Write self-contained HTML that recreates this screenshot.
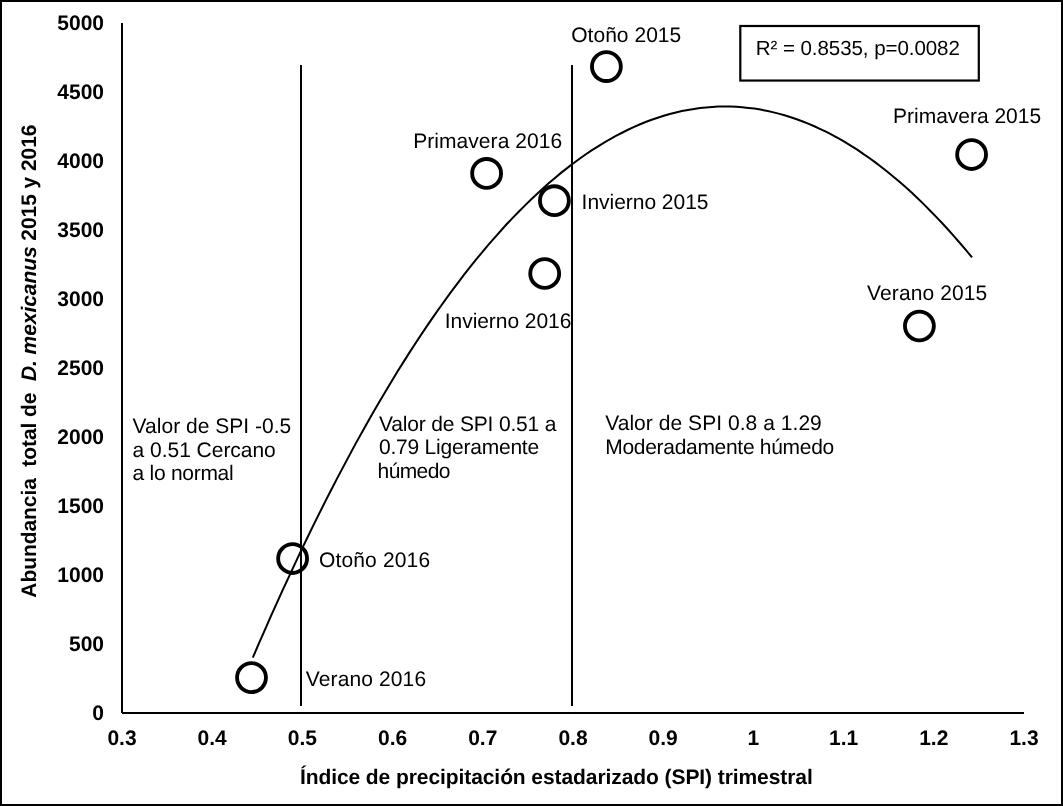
<!DOCTYPE html>
<html><head><meta charset="utf-8"><style>
html,body{margin:0;padding:0;background:#fff;}
svg{display:block;will-change:transform;}
text{font-family:"Liberation Sans",sans-serif;fill:#000;text-rendering:geometricPrecision;}
.b{font-weight:bold;font-size:21px;}
.r{font-size:21px;}
</style></head><body>
<svg width="1063" height="806" viewBox="0 0 1063 806">
<rect x="0" y="0" width="1063" height="806" fill="#fff"/>
<rect x="1" y="1" width="1061" height="804" fill="none" stroke="#000" stroke-width="2"/>
<rect x="121" y="23" width="2" height="690" fill="#000"/>
<rect x="122" y="712" width="902" height="2" fill="#000"/>
<rect x="300" y="65" width="2" height="641" fill="#000"/>
<rect x="571" y="65" width="2" height="641" fill="#000"/>
<path d="M252.8,657.7 L258.8,643.7 L264.9,629.9 L270.9,616.2 L277.0,602.7 L283.0,589.4 L289.1,576.3 L295.1,563.4 L301.1,550.6 L307.2,538.0 L313.2,525.6 L319.3,513.4 L325.3,501.4 L331.4,489.5 L337.4,477.9 L343.5,466.4 L349.5,455.1 L355.5,443.9 L361.6,433.0 L367.6,422.2 L373.7,411.6 L379.7,401.2 L385.8,391.0 L391.8,380.9 L397.8,371.1 L403.9,361.4 L409.9,351.9 L416.0,342.5 L422.0,333.4 L428.1,324.4 L434.1,315.6 L440.2,307.0 L446.2,298.6 L452.2,290.4 L458.3,282.3 L464.3,274.4 L470.4,266.7 L476.4,259.2 L482.5,251.9 L488.5,244.7 L494.5,237.8 L500.6,231.0 L506.6,224.3 L512.7,217.9 L518.7,211.7 L524.8,205.6 L530.8,199.7 L536.9,194.0 L542.9,188.4 L548.9,183.1 L555.0,177.9 L561.0,172.9 L567.1,168.1 L573.1,163.5 L579.2,159.0 L585.2,154.8 L591.2,150.7 L597.3,146.8 L603.3,143.1 L609.4,139.5 L615.4,136.2 L621.5,133.0 L627.5,130.0 L633.6,127.1 L639.6,124.5 L645.6,122.0 L651.7,119.8 L657.7,117.7 L663.8,115.7 L669.8,114.0 L675.9,112.5 L681.9,111.1 L687.9,109.9 L694.0,108.9 L700.0,108.0 L706.1,107.4 L712.1,106.9 L718.2,106.6 L724.2,106.5 L730.3,106.6 L736.3,106.8 L742.3,107.2 L748.4,107.9 L754.4,108.6 L760.5,109.6 L766.5,110.8 L772.6,112.1 L778.6,113.6 L784.6,115.3 L790.7,117.2 L796.7,119.2 L802.8,121.5 L808.8,123.9 L814.9,126.5 L820.9,129.3 L827.0,132.2 L833.0,135.4 L839.0,138.7 L845.1,142.2 L851.1,145.9 L857.2,149.7 L863.2,153.8 L869.3,158.0 L875.3,162.4 L881.3,167.0 L887.4,171.8 L893.4,176.7 L899.5,181.8 L905.5,187.1 L911.6,192.6 L917.6,198.3 L923.7,204.1 L929.7,210.2 L935.7,216.4 L941.8,222.8 L947.8,229.3 L953.9,236.1 L959.9,243.0 L966.0,250.1 L972.0,257.4" fill="none" stroke="#000" stroke-width="2"/>
<g fill="none" stroke="#000" stroke-width="3.85"><circle cx="251.5" cy="677.6" r="14.45"/><circle cx="292.6" cy="558.5" r="14.45"/><circle cx="486.6" cy="173.4" r="14.45"/><circle cx="544.7" cy="273.5" r="14.45"/><circle cx="554.4" cy="200.7" r="14.45"/><circle cx="606.4" cy="66.6" r="14.45"/><circle cx="919.4" cy="326" r="14.45"/><circle cx="971.6" cy="154.5" r="14.45"/></g>
<g class="b"><text x="104" y="720.0" text-anchor="end">0</text><text x="104" y="651.0" text-anchor="end">500</text><text x="104" y="582.0" text-anchor="end">1000</text><text x="104" y="513.0" text-anchor="end">1500</text><text x="104" y="444.0" text-anchor="end">2000</text><text x="104" y="375.0" text-anchor="end">2500</text><text x="104" y="306.0" text-anchor="end">3000</text><text x="104" y="237.0" text-anchor="end">3500</text><text x="104" y="168.0" text-anchor="end">4000</text><text x="104" y="99.0" text-anchor="end">4500</text><text x="104" y="30.0" text-anchor="end">5000</text><text x="122.0" y="745" text-anchor="middle">0.3</text><text x="212.2" y="745" text-anchor="middle">0.4</text><text x="302.4" y="745" text-anchor="middle">0.5</text><text x="392.6" y="745" text-anchor="middle">0.6</text><text x="482.8" y="745" text-anchor="middle">0.7</text><text x="573.0" y="745" text-anchor="middle">0.8</text><text x="663.2" y="745" text-anchor="middle">0.9</text><text x="753.4" y="745" text-anchor="middle">1</text><text x="843.6" y="745" text-anchor="middle">1.1</text><text x="933.8" y="745" text-anchor="middle">1.2</text><text x="1024.0" y="745" text-anchor="middle">1.3</text>
<text x="299.9" y="783.7" textLength="512.88" lengthAdjust="spacing">Índice de precipitación estadarizado (SPI) trimestral</text>
<text transform="translate(36.2,597.7) rotate(-90)" textLength="473.17" lengthAdjust="spacing">Abundancia&#160; total de&#160; <tspan font-style="italic">D. mexicanus</tspan> 2015 y 2016</text>
</g>
<rect x="740.3" y="26" width="238.5" height="54.55" fill="none" stroke="#000" stroke-width="2.2"/>
<text x="755.75" y="54.7" textLength="204.12" lengthAdjust="spacing" style="font-size:20.5px">R² = 0.8535, p=0.0082</text>
<g class="r">
<text x="571.2" y="42.0" textLength="110.07" lengthAdjust="spacing">Otoño 2015</text>
<text x="413.2" y="147.9" textLength="148.95" lengthAdjust="spacing">Primavera 2016</text>
<text x="581.6" y="209.0" textLength="126.87" lengthAdjust="spacing">Invierno 2015</text>
<text x="444.8" y="328.0" textLength="126.57" lengthAdjust="spacing">Invierno 2016</text>
<text x="893.0" y="122.8" textLength="148.15" lengthAdjust="spacing">Primavera 2015</text>
<text x="867.0" y="300.0" textLength="120.31" lengthAdjust="spacing">Verano 2015</text>
<text x="319.0" y="567.0" textLength="111.07" lengthAdjust="spacing">Otoño 2016</text>
<text x="305.8" y="685.8" textLength="120.31" lengthAdjust="spacing">Verano 2016</text>
<text x="132.6" y="433.0" textLength="158.67" lengthAdjust="spacing">Valor de SPI -0.5</text>
<text x="132.6" y="456.6" textLength="143.21" lengthAdjust="spacing">a 0.51 Cercano</text>
<text x="132.6" y="479.8" textLength="101.09" lengthAdjust="spacing">a lo normal</text>
<text x="379.0" y="430.7" textLength="177.46" lengthAdjust="spacing">Valor de SPI 0.51 a</text>
<text x="379.0" y="454.3" textLength="160.15" lengthAdjust="spacing">0.79 Ligeramente</text>
<text x="377.6" y="477.9" textLength="72.79" lengthAdjust="spacing">húmedo</text>
<text x="605.2" y="429.7" textLength="216.59" lengthAdjust="spacing">Valor de SPI 0.8 a 1.29</text>
<text x="605.2" y="453.8" textLength="229.06" lengthAdjust="spacing">Moderadamente húmedo</text>
</g>
</svg>
</body></html>
